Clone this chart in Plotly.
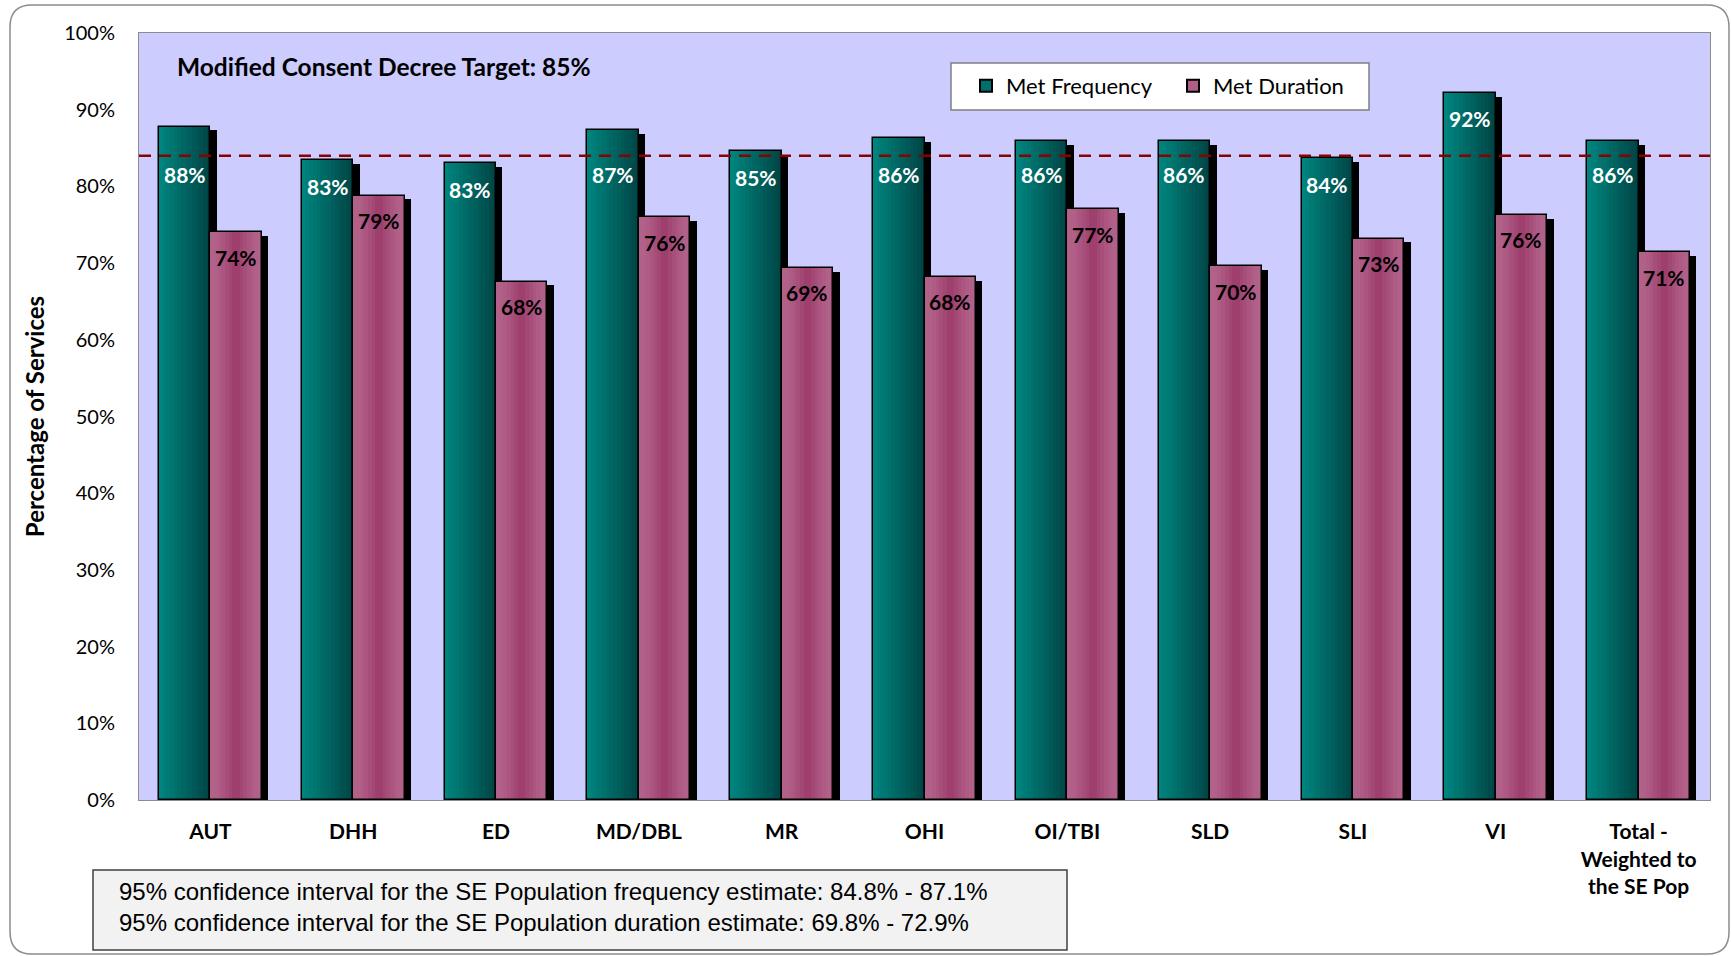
import plotly.graph_objects as go

# ---------------- data ----------------
categories = ["AUT", "DHH", "ED", "MD/DBL", "MR", "OHI", "OI/TBI", "SLD", "SLI", "VI",
              "Total -<br>Weighted to<br>the SE Pop"]
met_frequency = [87.8, 83.4, 83.0, 87.3, 84.6, 86.3, 85.9, 85.9, 83.7, 92.2, 85.9]
met_duration = [74.0, 78.8, 67.6, 76.0, 69.4, 68.2, 77.0, 69.6, 73.2, 76.3, 71.4]
series_names = ["Met Frequency", "Met Duration"]
target_value = 84.0
y_tick_values = [0, 10, 20, 30, 40, 50, 60, 70, 80, 90, 100]
y_tick_labels = [f"{v}%" for v in y_tick_values]
title_text = "Modified Consent Decree Target: 85%"
y_title = "Percentage of Services"
ci_lines = [
    "95% confidence interval for the SE Population frequency estimate: 84.8% - 87.1%",
    "95% confidence interval for the SE Population duration estimate: 69.8% - 72.9%",
]

# ---------------- geometry / style ----------------
W, H = 1731, 956
ML, MR, MT, MB = 139, 21, 33, 156
PW, PH = W - ML - MR, H - MT - MB


def px_x(px):
    return (px - ML) / PW


def px_y(py):
    return (H - MB - py) / PH


BAR_W = 0.36
FREQ_OFF = -0.36
DUR_OFF = 0.0
SHADOW_DX = 0.045
SHADOW_DY = 0.5
N_STRIPS = 14

CAL = "Lato, 'Open Sans', sans-serif"


def lerp(c1, c2, t):
    return "rgb(%d,%d,%d)" % tuple(round(a + (b - a) * t) for a, b in zip(c1, c2))


teal_left, teal_right = (0, 132, 126), (0, 70, 70)
mauve_edge, mauve_mid = (178, 98, 138), (156, 58, 106)

fig = go.Figure()

# shadows
for vals, off in [(met_frequency, FREQ_OFF), (met_duration, DUR_OFF)]:
    fig.add_trace(go.Bar(
        x=categories, y=[v - SHADOW_DY for v in vals], width=BAR_W,
        offset=off + SHADOW_DX, marker=dict(color="black", line=dict(width=0)),
        showlegend=False, hoverinfo="skip"))

# gradient strips
sw = BAR_W / N_STRIPS
for i in range(N_STRIPS):
    t = i / (N_STRIPS - 1)
    wid = sw * 1.6 if i < N_STRIPS - 1 else sw
    fig.add_trace(go.Bar(
        x=categories, y=met_frequency, width=wid, offset=FREQ_OFF + i * sw,
        marker=dict(color=lerp(teal_left, teal_right, t), line=dict(width=0)),
        showlegend=False, hoverinfo="skip"))
for i in range(N_STRIPS):
    t = i / (N_STRIPS - 1)
    tt = (1 - abs(2 * t - 1)) ** 1.5
    wid = sw * 1.6 if i < N_STRIPS - 1 else sw
    fig.add_trace(go.Bar(
        x=categories, y=met_duration, width=wid, offset=DUR_OFF + i * sw,
        marker=dict(color=lerp(mauve_edge, mauve_mid, tt), line=dict(width=0)),
        showlegend=False, hoverinfo="skip"))

# outlines
for vals, off, name in [(met_frequency, FREQ_OFF, series_names[0]),
                        (met_duration, DUR_OFF, series_names[1])]:
    fig.add_trace(go.Bar(
        x=categories, y=vals, width=BAR_W, offset=off, name=name,
        marker=dict(color="rgba(0,0,0,0)", line=dict(color="black", width=1.5)),
        showlegend=False, hovertemplate="%{y:.0f}%<extra>" + name + "</extra>"))

# legend entries
fig.add_trace(go.Bar(x=[categories[0]], y=[None], name=series_names[0],
                     marker=dict(color="rgb(0,110,105)", line=dict(color="black", width=1.5))))
fig.add_trace(go.Bar(x=[categories[0]], y=[None], name=series_names[1],
                     marker=dict(color="rgb(176,94,134)", line=dict(color="black", width=1.5))))

# data labels
annotations = []
for c, v in zip(categories, met_frequency):
    ly = v - 3.4
    if abs(ly - target_value) < 2.5:
        ly = target_value - 2.4
    annotations.append(dict(x=c, y=ly, xref="x", yref="y", text=f"{v:.0f}%",
                            showarrow=False, xshift=-BAR_W / 2 * PW / 11,
                            font=dict(family=CAL, size=21, color="white", weight="bold")))
for c, v in zip(categories, met_duration):
    annotations.append(dict(x=c, y=v, xref="x", yref="y", text=f"{v:.0f}%",
                            showarrow=False, xshift=BAR_W / 2 * PW / 11, yshift=-25,
                            font=dict(family=CAL, size=21, color="black", weight="bold")))

annotations.append(dict(x=px_x(175), y=px_y(66), xref="paper", yref="paper",
                        text=title_text, showarrow=False, xanchor="left", yanchor="middle",
                        font=dict(family=CAL, size=24.5, color="black", weight="bold")))
annotations.append(dict(x=px_x(117), y=px_y(907), xref="paper", yref="paper",
                        text="<br>".join(ci_lines), showarrow=False, xanchor="left",
                        yanchor="middle", align="left",
                        font=dict(family="'Liberation Sans', Arial, sans-serif", size=24,
                                  color="black")))

# outer rounded frame
r = 22
fx0, fy0, fx1, fy1 = 10, 5, 1729, 954
frame_path = (
    f"M {px_x(fx0)},{px_y(fy1 - r)} L {px_x(fx0)},{px_y(fy0 + r)} "
    f"Q {px_x(fx0)},{px_y(fy0)} {px_x(fx0 + r)},{px_y(fy0)} "
    f"L {px_x(fx1 - r)},{px_y(fy0)} Q {px_x(fx1)},{px_y(fy0)} {px_x(fx1)},{px_y(fy0 + r)} "
    f"L {px_x(fx1)},{px_y(fy1 - r)} Q {px_x(fx1)},{px_y(fy1)} {px_x(fx1 - r)},{px_y(fy1)} "
    f"L {px_x(fx0 + r)},{px_y(fy1)} Q {px_x(fx0)},{px_y(fy1)} {px_x(fx0)},{px_y(fy1 - r)} Z"
)

shapes = [
    dict(type="path", xref="paper", yref="paper", path=frame_path,
         line=dict(color="#8c8c8c", width=1.5), layer="below"),
    dict(type="line", xref="paper", yref="y", x0=0, x1=1, y0=target_value, y1=target_value,
         line=dict(color="#8b0000", width=2.5, dash="12px,8px")),
    # legend box
    dict(type="rect", xref="paper", yref="paper", x0=px_x(951), x1=px_x(1369),
         y0=px_y(110), y1=px_y(63), fillcolor="white",
         line=dict(color="#808080", width=1.5), layer="above"),
    # confidence-interval box
    dict(type="rect", xref="paper", yref="paper", x0=px_x(93), x1=px_x(1067),
         y0=px_y(950), y1=px_y(870), fillcolor="#f2f2f2",
         line=dict(color="#404040", width=1.5), layer="below"),
]

fig.update_layout(
    width=W, height=H,
    margin=dict(l=ML, r=MR, t=MT, b=MB, autoexpand=False),
    paper_bgcolor="white", plot_bgcolor="#ccccff",
    barmode="overlay", bargap=0,
    showlegend=True,
    legend=dict(orientation="h", x=px_x(966), y=px_y(86), xanchor="left", yanchor="middle",
                bgcolor="rgba(0,0,0,0)", borderwidth=0,
                font=dict(family=CAL, size=22, color="black"),
                entrywidth=162, itemsizing="constant"),
    annotations=annotations, shapes=shapes,
    xaxis=dict(range=[-0.5, 10.5], showgrid=False, showline=True, mirror=True,
               linecolor="#8c8c8c", linewidth=1, ticks="", ticklabelstandoff=13,
               tickfont=dict(family=CAL, size=21, color="black", weight="bold"),
               fixedrange=True, automargin=False),
    yaxis=dict(range=[0, 100], tickvals=y_tick_values, ticktext=y_tick_labels,
               showgrid=False, zeroline=False, showline=True, mirror=True,
               linecolor="#8c8c8c", linewidth=1, ticks="", ticklabelstandoff=19,
               tickfont=dict(family=CAL, size=20, color="black"),
               title=dict(text=y_title, standoff=12,
                          font=dict(family=CAL, size=24, color="black", weight="bold")),
               fixedrange=True, automargin=False),
)

fig.write_html("out.html", config={"displayModeBar": False},
               post_script="document.body.style.margin='0';")
